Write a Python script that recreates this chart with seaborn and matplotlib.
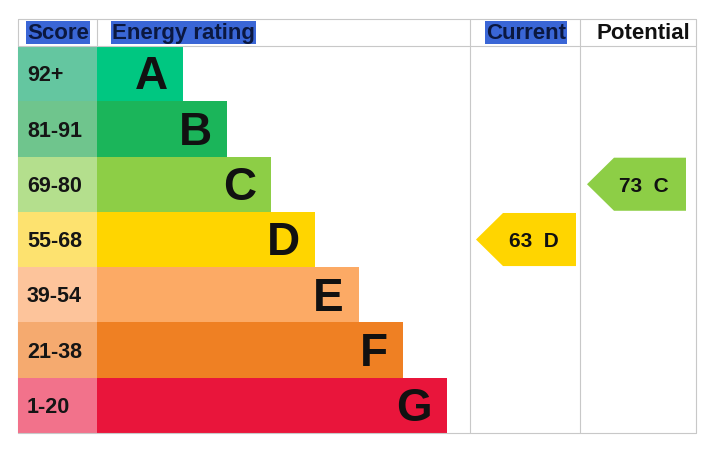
import seaborn as sns
import matplotlib.pyplot as plt
from matplotlib.patches import Polygon

# EPC bands, top (best) to bottom
bands = ["A", "B", "C", "D", "E", "F", "G"]
score_ranges = ["92+", "81-91", "69-80", "55-68", "39-54", "21-38", "1-20"]
band_min = [92, 81, 69, 55, 39, 21, 1]
bar_colors = ["#00c781", "#1bb55a", "#8dce46", "#ffd500", "#fcaa65", "#ef8023", "#e9153b"]
score_colors = ["#64c6a0", "#6fc58d", "#b4df8d", "#fde26f", "#fdc49b", "#f5aa6f", "#f2728b"]

current_score = 63
potential_score = 73

headers = ["Score", "Energy rating", "Current", "Potential"]


def band_of(score):
    for i, lo in enumerate(band_min):
        if score >= lo:
            return i
    return len(bands) - 1


sns.set_theme(style="white")
plt.rcParams["font.family"] = ["Liberation Sans", "DejaVu Sans"]

fig = plt.figure(figsize=(7.11, 4.56), dpi=100)
ax = fig.add_axes([0, 0, 1, 1])

# bar lengths grow one step per band
lengths = [86 + 44 * i for i in range(len(bands))]
score_w = 79

sns.barplot(x=lengths, y=bands, hue=bands, palette=bar_colors, orient="h",
            width=1.0, saturation=1, legend=False, linewidth=0,
            errorbar=None, ax=ax)
sns.barplot(x=[-score_w] * len(bands), y=bands, hue=bands, palette=score_colors,
            orient="h", width=1.0, saturation=1, legend=False, linewidth=0,
            errorbar=None, ax=ax)

ax.set_xlim(-97, 614)
ax.set_ylim(6.897, -1.35)
ax.axis("off")

# band letters and score ranges
for i, (b, s) in enumerate(zip(bands, score_ranges)):
    ax.text(lengths[i] - 15, i + 0.05, b, ha="right", va="center",
            fontsize=33, fontweight="bold", color="#111111")
    ax.text(-70, i + 0.02, s, ha="left", va="center",
            fontsize=15.5, fontweight="bold", color="#151515")

# grid lines
grid = "#c8c8c8"
lw = 0.8
top, head_bot, bottom = -0.988, -0.5, 6.5
col_cur, col_pot, col_end = 373, 483, 599
ax.plot([-79, col_end], [top, top], color=grid, lw=lw)
ax.plot([-79, col_end], [head_bot, head_bot], color=grid, lw=lw)
ax.plot([-79, col_end], [bottom, bottom], color=grid, lw=lw)
ax.plot([-79, -79], [top, bottom], color=grid, lw=lw, zorder=0)
ax.plot([0, 0], [top, head_bot], color=grid, lw=lw)
for xc in (col_cur, col_pot, col_end):
    ax.plot([xc, xc], [top, bottom], color=grid, lw=lw)

# headers
hy = -0.74
hl = dict(facecolor="#3a66d6", edgecolor="none", pad=0.8)
ax.text(-70, hy, headers[0], ha="left", va="center", fontsize=16,
        fontweight="bold", color="#0b1840", bbox=hl)
ax.text(15, hy, headers[1], ha="left", va="center", fontsize=16,
        fontweight="bold", color="#0b1840", bbox=hl)
ax.text(389, hy, headers[2], ha="left", va="center", fontsize=16,
        fontweight="bold", color="#0b1840", bbox=hl)
ax.text(500, hy, headers[3], ha="left", va="center", fontsize=16,
        fontweight="bold", color="#111111")


# rating arrows
def draw_arrow(score, x_tip, x_body, x_right):
    i = band_of(score)
    y0, y1 = i - 0.48, i + 0.48
    pts = [(x_tip, i), (x_body, y0), (x_right, y0), (x_right, y1), (x_body, y1)]
    ax.add_patch(Polygon(pts, closed=True, facecolor=bar_colors[i],
                         edgecolor="none", zorder=3))
    tx = x_body + 0.42 * (x_right - x_body)
    ax.text(tx, i + 0.02, f"{score}  {bands[i]}", ha="center", va="center",
            fontsize=15, fontweight="bold", color="#111111", zorder=4)


draw_arrow(current_score, 379, 406, 479)
draw_arrow(potential_score, 490, 517, 589)

plt.savefig("out.png", dpi=100)
